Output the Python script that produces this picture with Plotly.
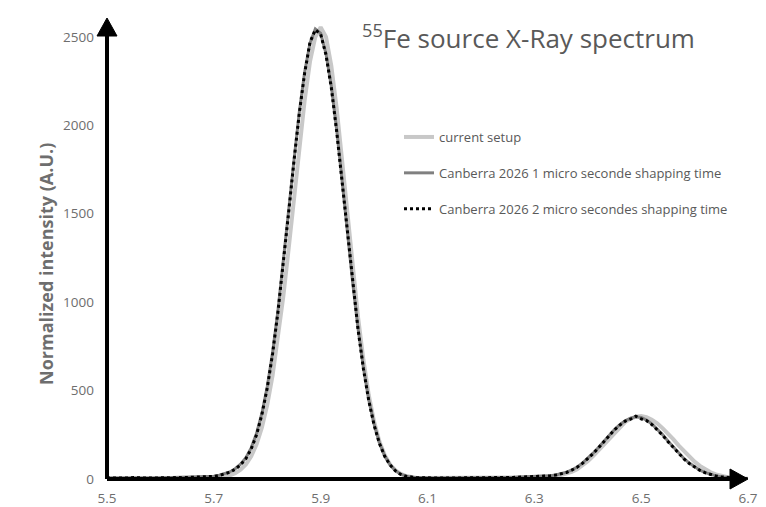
import plotly.graph_objects as go

# Energy grid (keV)
energy = [5.50, 5.51, 5.52, 5.53, 5.54, 5.55, 5.56, 5.57, 5.58, 5.59,
          5.60, 5.61, 5.62, 5.63, 5.64, 5.65, 5.66, 5.67, 5.68, 5.69,
          5.70, 5.71, 5.72, 5.73, 5.74, 5.75, 5.76, 5.77, 5.78, 5.79,
          5.80, 5.81, 5.82, 5.83, 5.84, 5.85, 5.86, 5.87, 5.88, 5.89,
          5.90, 5.91, 5.92, 5.93, 5.94, 5.95, 5.96, 5.97, 5.98, 5.99,
          6.00, 6.01, 6.02, 6.03, 6.04, 6.05, 6.06, 6.07, 6.08, 6.09,
          6.10, 6.11, 6.12, 6.13, 6.14, 6.15, 6.16, 6.17, 6.18, 6.19,
          6.20, 6.21, 6.22, 6.23, 6.24, 6.25, 6.26, 6.27, 6.28, 6.29,
          6.30, 6.31, 6.32, 6.33, 6.34, 6.35, 6.36, 6.37, 6.38, 6.39,
          6.40, 6.41, 6.42, 6.43, 6.44, 6.45, 6.46, 6.47, 6.48, 6.49,
          6.50, 6.51, 6.52, 6.53, 6.54, 6.55, 6.56, 6.57, 6.58, 6.59,
          6.60, 6.61, 6.62, 6.63, 6.64, 6.65, 6.66, 6.67, 6.68, 6.69,
          6.70]

current_setup = [4, 5, 4, 5, 4, 5, 5, 4, 5, 5, 4, 5, 5, 4, 5, 5, 4, 5, 5, 4,
                 5, 8, 12, 20, 32, 52, 82, 128, 196, 292, 420, 585, 790, 1030, 1300,
                 1590, 1880, 2140, 2360, 2500, 2555, 2500, 2335, 2095, 1805, 1495,
                 1195, 915, 675, 475, 325, 212, 134, 82, 49, 29, 17, 10, 6,
                 5, 5, 4, 5, 4, 5, 4, 5, 5, 4, 5, 5, 6, 5, 6, 6, 7, 7, 8, 9, 10,
                 11, 12, 13, 15, 18, 23, 30, 41, 55, 75, 100, 130, 162, 196, 232,
                 266, 296, 322, 340, 352, 356, 350, 335, 315, 288, 258, 225, 190,
                 157, 126, 98, 74, 54, 38, 26, 17, 11, 7, 4, 3, 2]

canberra_1us = [5, 6, 6, 5, 7, 6, 5, 7, 6, 6, 7, 8, 6, 8, 7, 9, 9, 11, 11, 14,
                16, 21, 30, 40, 58, 84, 120, 176, 258, 372, 522, 716, 950, 1222, 1510,
                1800, 2075, 2300, 2465, 2545, 2520, 2405, 2220, 1975, 1690, 1395,
                1110, 850, 630, 448, 310, 205, 130, 80, 47, 27, 16, 10, 8,
                7, 6, 5, 6, 6, 5, 6, 5, 6, 6, 7, 6, 7, 7, 8, 8, 9, 9, 11, 12, 13,
                14, 15, 17, 19, 23, 29, 38, 51, 68, 90, 116, 146, 178, 213, 248,
                280, 307, 329, 344, 352, 348, 333, 311, 283, 251, 215, 180, 147,
                116, 90, 68, 50, 36, 26, 18, 12, 9, 6, 4, 3, 2]

canberra_2us = [6, 5, 7, 6, 5, 8, 6, 7, 5, 6, 8, 7, 6, 9, 7, 8, 10, 9, 12, 13,
                15, 20, 28, 38, 55, 80, 115, 170, 250, 365, 515, 708, 944, 1214, 1505,
                1797, 2068, 2294, 2470, 2540, 2515, 2398, 2211, 1964, 1681, 1387,
                1103, 845, 624, 444, 305, 201, 128, 79, 46, 26, 15, 10, 8,
                7, 6, 6, 5, 6, 5, 6, 6, 5, 6, 6, 7, 6, 7, 8, 7, 8, 9, 10, 11, 12,
                13, 14, 16, 18, 22, 28, 37, 50, 66, 88, 114, 144, 176, 210, 246,
                278, 305, 327, 338, 355, 340, 330, 308, 280, 248, 212, 178, 144,
                114, 88, 66, 49, 35, 25, 17, 12, 8, 6, 4, 3, 2]

series_names = ["current setup",
                "Canberra 2026 1 micro seconde shapping time",
                "Canberra 2026 2 micro secondes shapping time"]

x_ticks = [5.5, 5.7, 5.9, 6.1, 6.3, 6.5, 6.7]
y_ticks = [0, 500, 1000, 1500, 2000, 2500]

FONT = "Open Sans"

fig = go.Figure()
fig.add_trace(go.Scatter(x=energy, y=current_setup, mode="lines", name=series_names[0],
                         legendgroup="a", line=dict(color="#c8c8c8", width=4)))
fig.add_trace(go.Scatter(x=energy, y=canberra_1us, mode="lines", name=series_names[1],
                         legendgroup="b", line=dict(color="#808080", width=3)))
fig.add_trace(go.Scatter(x=energy, y=canberra_2us, mode="lines", name=series_names[2],
                         legendgroup="c", line=dict(color="#000000", width=3, dash="dot")))

L, R, T, B = 107, 18, 18, 28
W, H = 766, 507
pw, ph = W - L - R, H - T - B

fig.update_layout(
    width=W, height=H,
    margin=dict(l=L, r=R, t=T, b=B, autoexpand=False),
    paper_bgcolor="white", plot_bgcolor="white",
    font=dict(family=FONT, color="#595959"),
    showlegend=True,
    legend=dict(x=(399 - L) / pw, y=(479 - 122) / ph, xanchor="left", yanchor="top",
                font=dict(size=13, color="#595959", family=FONT),
                bgcolor="rgba(0,0,0,0)", tracegroupgap=16, itemwidth=30),
    xaxis=dict(range=[5.5, 6.7], tickvals=x_ticks, ticktext=[f"{v:.1f}" for v in x_ticks],
               showgrid=False, zeroline=False, showline=False, ticks="", automargin=False,
               tickfont=dict(size=13.5, color="#6e6e6e", family=FONT), ticklabelstandoff=9),
    yaxis=dict(range=[0, 2607], tickvals=y_ticks, showgrid=False, zeroline=False,
               showline=False, ticks="", automargin=False,
               tickfont=dict(size=13.5, color="#6e6e6e", family=FONT),
               ticklabelstandoff=12),
)

# axis arrows as shapes (paper coordinates)
hx, hy = 18 / pw, 18 / ph      # head length
wx, wy = 10 / pw, 10 / ph      # head half-width
fig.add_shape(type="line", xref="paper", yref="paper", x0=0, y0=0, x1=1 - hx * 0.8, y1=0,
              line=dict(color="black", width=4), layer="above")
fig.add_shape(type="line", xref="paper", yref="paper", x0=0, y0=0, x1=0, y1=1 - hy * 0.8,
              line=dict(color="black", width=4), layer="above")
fig.add_shape(type="path", xref="paper", yref="paper",
              path=f"M {1 - hx},{-wy} L 1,0 L {1 - hx},{wy} Z",
              fillcolor="black", line=dict(color="black", width=1), layer="above")
fig.add_shape(type="path", xref="paper", yref="paper",
              path=f"M {-wx},{1 - hy} L 0,1 L {wx},{1 - hy} Z",
              fillcolor="black", line=dict(color="black", width=1), layer="above")

# title
fig.add_annotation(xref="paper", yref="paper", x=(360 - L) / pw, y=(479 - 37) / ph,
                   xanchor="left", yanchor="middle", showarrow=False,
                   text="<sup>55</sup>Fe source X-Ray spectrum",
                   font=dict(size=26, color="#595959", family=FONT))

# y-axis title
fig.add_annotation(xref="paper", yref="paper", x=(46 - L) / pw, y=(479 - 264) / ph,
                   xanchor="center", yanchor="middle", showarrow=False, textangle=-90,
                   text="<b>Normalized intensity (A.U.)</b>",
                   font=dict(size=18, color="#6e6e6e", family=FONT))

fig.write_html("out.html")
